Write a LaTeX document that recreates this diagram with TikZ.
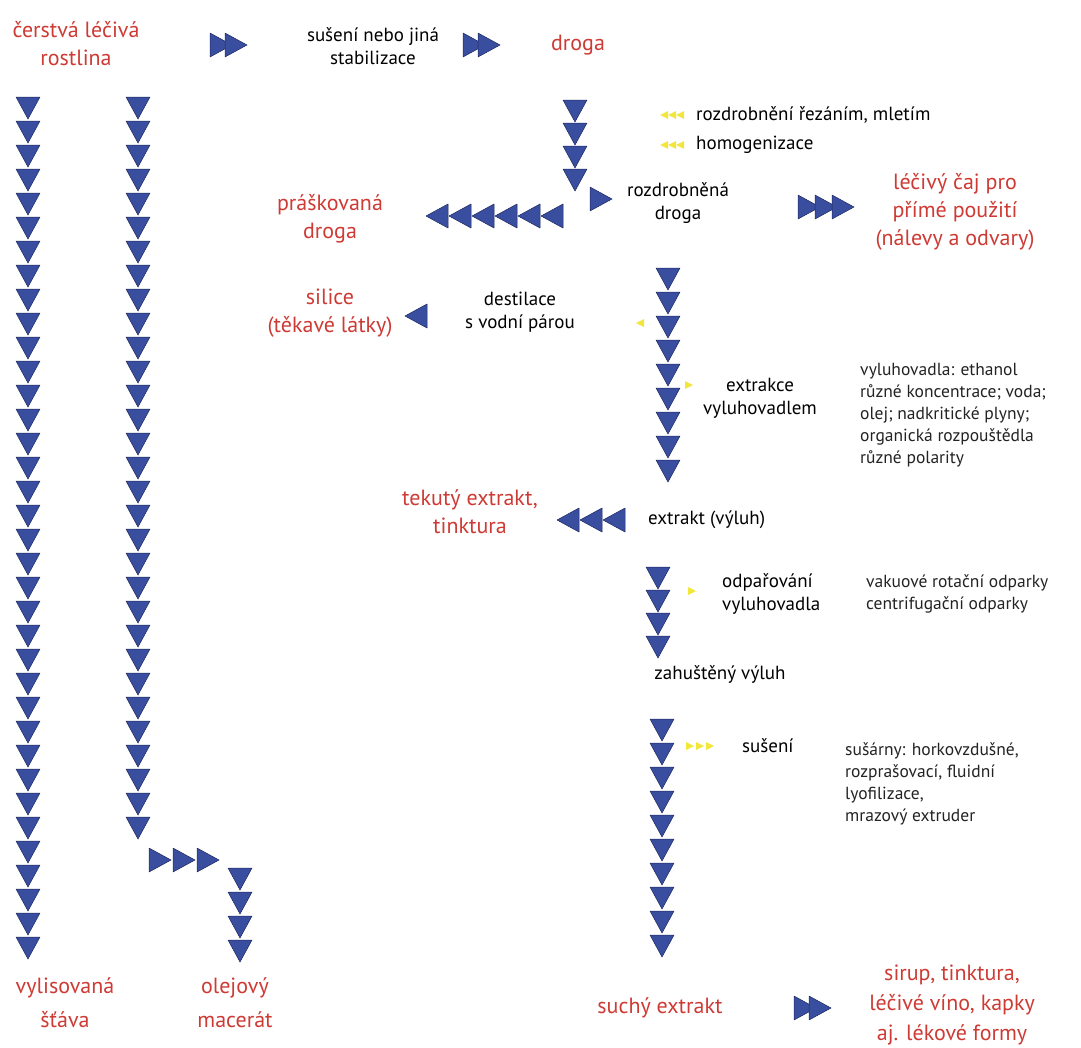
\documentclass[tikz,border=0pt]{standalone}
\usepackage{fontspec}
\setmainfont{PT Sans}

\definecolor{labred}{RGB}{206,58,52}
\definecolor{triblue}{RGB}{58,78,160}
\definecolor{tridark}{RGB}{30,40,95}
\definecolor{hintyel}{RGB}{242,230,60}
\definecolor{notegray}{RGB}{35,35,35}

\begin{document}
\begin{tikzpicture}[x=1pt,y=-1pt,
    product/.style={text=labred,font=\fontsize{22}{28}\selectfont,align=center,inner sep=0pt},
    stage/.style={font=\fontsize{19}{23}\selectfont,align=center,inner sep=0pt},
    note/.style={text=notegray,font=\fontsize{17.5}{22}\selectfont,align=left,anchor=west,inner sep=0pt},
    tri/.style={fill=triblue,draw=tridark,line width=0.5pt,line join=round},
    ytri/.style={fill=hintyel},
    tridown/.pic={\filldraw[tri] (-12,-11) -- (12,-11) -- (0,11) -- cycle;},
    triright/.pic={\filldraw[tri] (-11,-12) -- (-11,12) -- (11,0) -- cycle;},
    trileft/.pic={\filldraw[tri] (11,-12) -- (11,12) -- (-11,0) -- cycle;},
    yleft/.pic={\fill[ytri] (4,-4) -- (4,4) -- (-4,0) -- cycle;},
    yright/.pic={\fill[ytri] (-4,-4) -- (-4,4) -- (4,0) -- cycle;}
]
    \useasboundingbox (0,0) rectangle (1081,1047);

    % products (red)
    \node[product] (fresh) at (76,44) {čerstvá léčivá\\rostlina};
    \node[product] (drug) at (578,45) {droga};
    \node[product] (tea) at (955,212) {léčivý čaj pro\\přímé použití\\(nálevy a odvary)};
    \node[product] (powder) at (330,219) {práškovaná\\droga};
    \node[product] (oil) at (330,313) {silice\\(těkavé látky)};
    \node[product] (tinct) at (470,512) {tekutý extrakt,\\tinktura};
    \node[product,font=\fontsize{22}{34}\selectfont] (juice) at (65,1003) {vylisovaná\\šťáva};
    \node[product,font=\fontsize{22}{34}\selectfont] (macer) at (235,1003) {olejový\\macerát};
    \node[product] (dryext) at (660,1008) {suchý extrakt};
    \node[product,font=\fontsize{22}{30}\selectfont] (forms) at (952,1005) {sirup, tinktura,\\léčivé víno, kapky\\aj. lékové formy};

    % steps
    \node[stage] (stab) at (373,46) {sušení nebo jiná\\stabilizace};
    \node[stage,anchor=west] (cut) at (696,115) {rozdrobnění řezáním, mletím};
    \node[stage,anchor=west] (homog) at (696,145) {homogenizace};
    \node[stage] (cutdrug) at (678,203) {rozdrobněná\\droga};
    \node[stage] (dist) at (520,312) {destilace\\s vodní párou};
    \node[stage] (extr) at (760,398) {extrakce\\vyluhovadlem};
    \node[stage,anchor=west] (extract) at (648,520) {extrakt (výluh)};
    \node[stage,align=left,anchor=west] (evap) at (722,594) {odpařování\\vyluhovadla};
    \node[stage] (conc) at (720,674) {zahuštěný výluh};
    \node[stage,anchor=west] (dry) at (742,746) {sušení};

    % notes
    \node[note] (solv) at (860,415) {vyluhovadla: ethanol\\různé koncentrace; voda;\\olej; nadkritické plyny;\\organická rozpouštědla\\různé polarity};
    \node[note] (evapdev) at (866,594) {vakuové rotační odparky\\centrifugační odparky};
    \node[note] (dryer) at (845,784) {sušárny: horkovzdušné,\\rozprašovací, fluidní\\lyofilizace,\\mrazový extruder};

    % top row
    \foreach \x in {221,236} \pic at (\x,45) {triright};
    \foreach \x in {474,489} \pic at (\x,45) {triright};

    % pressing and maceration
    \foreach \i in {0,...,35} \pic at (28,{108+24*\i}) {tridown};
    \foreach \i in {0,...,30} \pic at (138,{108+24*\i}) {tridown};
    \foreach \i in {0,...,2} \pic at ({160+24*\i},860) {triright};
    \foreach \i in {0,...,3} \pic at (240,{879+24*\i}) {tridown};

    % droga
    \foreach \i in {0,...,3} \pic at (575,{111+23*\i}) {tridown};
    \pic at (601,199) {triright};
    \foreach \i in {0,...,5} \pic at ({437+23*\i},216) {trileft};
    \foreach \x in {664,672,680} {
        \pic at (\x,115) {yleft};
        \pic at (\x,145) {yleft};
    }
    \foreach \x in {809,826,843} \pic at (\x,207) {triright};

    % extraction
    \foreach \i in {0,...,8} \pic at (668,{279+24*\i}) {tridown};
    \pic at (416,316) {trileft};
    \pic at (640,323) {yleft};
    \pic at (689,385) {yright};
    \foreach \i in {0,...,2} \pic at ({568+23*\i},520) {trileft};

    % evaporation
    \foreach \i in {0,...,3} \pic at (658,{578+23*\i}) {tridown};
    \pic at (692,591) {yright};

    % drying
    \foreach \i in {0,...,9} \pic at (662,{730+24*\i}) {tridown};
    \foreach \x in {690,700,710} \pic at (\x,746) {yright};
    \foreach \x in {805,820} \pic at (\x,1008) {triright};

\end{tikzpicture}
\end{document}
